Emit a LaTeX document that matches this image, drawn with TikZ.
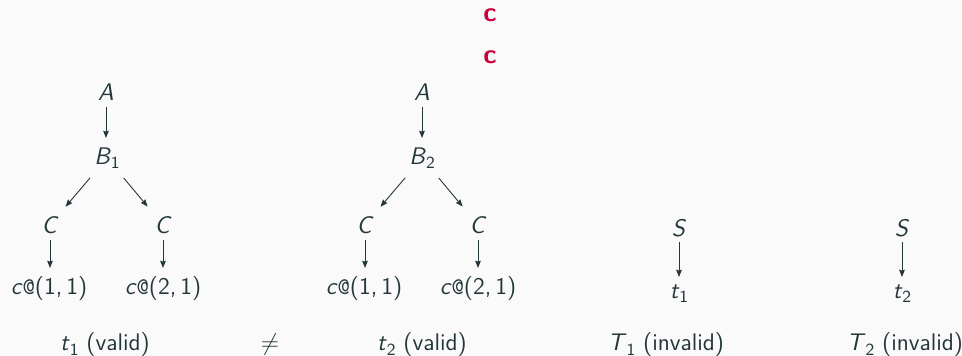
\documentclass[tikz,border=0pt]{standalone}
\usetikzlibrary{arrows.meta}
\definecolor{fg}{HTML}{23373B}
\definecolor{bg}{HTML}{FAFAFA}
\definecolor{alert}{HTML}{C8003C}
\newcommand{\vr}[1]{\textit{#1}}
\newcommand{\sbs}[1]{\raisebox{-0.4ex}{\fontsize{8.5}{9}\selectfont #1}}
\newcommand{\cat}[1]{\vr{c}\texttt{@}(#1)}
\begin{document}
\begin{tikzpicture}[x=0.5pt,y=-0.5pt,
  every node/.style={text=fg,font=\sffamily\fontsize{12}{14}\selectfont,inner sep=0pt},
  arr/.style={draw=fg,line width=0.45pt,-{Stealth[length=3.6pt,width=2.8pt,inset=0.4pt]}},
  vert/.style={arr,shorten <=7.5pt,shorten >=10pt},
  diag/.style={arr,shorten <=13pt,shorten >=12pt},
  leaf/.style={arr,shorten <=7.5pt,shorten >=10.5pt},
  redc/.style={text=alert,font=\sffamily\bfseries\fontsize{13.5}{15}\selectfont}]
\fill[bg] (0,0) rectangle (962,356);
\useasboundingbox (0,0) rectangle (962,356);
\node[redc] (r1) at (490,15) {c};
\node[redc] (r2) at (490,57) {c};
% tree 1
\node (a1) at (106,92) {\vr{A}};
\node (b1) at (107,158) {\vr{B}\sbs{1}};
\node (c1l) at (50,225) {\vr{C}};
\node (c1r) at (163,225) {\vr{C}};
\node (l1l) at (49,289) {\cat{1,\,1}};
\node (l1r) at (163,289) {\cat{2,\,1}};
\draw[vert] (a1.center) -- (a1.center |- b1.center);
\draw[diag] (b1.center) -- (c1l.center);
\draw[diag] (b1.center) -- (c1r.center);
\draw[leaf] (c1l.center) -- (c1l.center |- l1l.center);
\draw[leaf] (c1r.center) -- (c1r.center |- l1r.center);
% tree 2
\node (a2) at (422,92) {\vr{A}};
\node (b2) at (422,158) {\vr{B}\sbs{2}};
\node (c2l) at (365,225) {\vr{C}};
\node (c2r) at (478,225) {\vr{C}};
\node (l2l) at (364,289) {\cat{1,\,1}};
\node (l2r) at (478,289) {\cat{2,\,1}};
\draw[vert] (a2.center) -- (a2.center |- b2.center);
\draw[diag] (b2.center) -- (c2l.center);
\draw[diag] (b2.center) -- (c2r.center);
\draw[leaf] (c2l.center) -- (c2l.center |- l2l.center);
\draw[leaf] (c2r.center) -- (c2r.center |- l2r.center);
% S trees
\node (s1) at (679,228) {\vr{S}};
\node (t1) at (679,294) {\vr{t}\sbs{1}};
\node (s2) at (902,228) {\vr{S}};
\node (t2) at (902,294) {\vr{t}\sbs{2}};
\draw[arr,shorten <=7pt,shorten >=8.5pt] (s1.center) -- (s1.center |- t1.center);
\draw[arr,shorten <=7pt,shorten >=8.5pt] (s2.center) -- (s2.center |- t2.center);
% labels
\node (lab1) at (105,345) {\vr{t}\sbs{1} (valid)};
\node (neq) at (270,345) {$\neq$};
\node (lab2) at (422,345) {\vr{t}\sbs{2} (valid)};
\node (lab3) at (666,345) {\vr{T}\sbs{1} (invalid)};
\node (lab4) at (905,345) {\vr{T}\sbs{2} (invalid)};
\end{tikzpicture}
\end{document}
